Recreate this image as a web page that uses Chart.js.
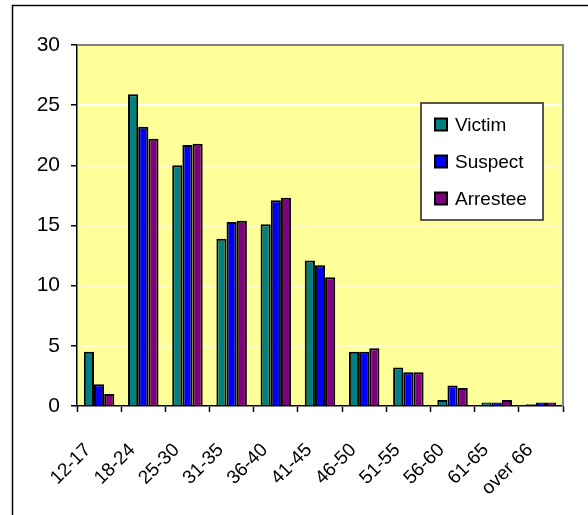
<!DOCTYPE html>
<html>
<head>
<meta charset="utf-8">
<script src="https://cdn.jsdelivr.net/npm/chart.js@4/dist/chart.umd.min.js"></script>
<style>
  html, body { margin: 0; padding: 0; background: #fff; overflow: hidden; }
  #wrap { width: 588px; height: 515px; position: relative; }
</style>
</head>
<body>
<div id="wrap"><canvas id="c"></canvas></div>
<script>
// Age groups (categories)
const ageGroups = ['12-17', '18-24', '25-30', '31-35', '36-40', '41-45', '46-50', '51-55', '56-60', '61-65', 'over 66'];

// Percentages per age group
const victim   = [4.5, 25.9, 20.0, 13.9, 15.1, 12.1, 4.5, 3.2, 0.5, 0.3, 0.15];
const suspect  = [1.8, 23.2, 21.7, 15.3, 17.1, 11.7, 4.5, 2.8, 1.7, 0.3, 0.3];
const arrestee = [1.0, 22.2, 21.8, 15.4, 17.3, 10.7, 4.8, 2.8, 1.5, 0.5, 0.3];

const seriesNames = ['Victim', 'Suspect', 'Arrestee'];
const yTicks = [0, 5, 10, 15, 20, 25, 30];

const FONT = '"Liberation Sans", Arial, sans-serif';

// Page frame, plot background and plot border
const framePlugin = {
  id: 'frame',
  beforeDraw(chart) {
    const ctx = chart.ctx, a = chart.chartArea;
    ctx.save();
    ctx.fillStyle = '#ffffff';
    ctx.fillRect(0, 0, chart.width, chart.height);
    ctx.strokeStyle = '#000000';
    ctx.lineWidth = 1.5;
    ctx.beginPath();
    ctx.moveTo(12.5, chart.height);
    ctx.lineTo(12.5, 5.5);
    ctx.lineTo(chart.width, 5.5);
    ctx.stroke();
    ctx.fillStyle = '#FFFF99';
    ctx.fillRect(a.left, a.top, a.right - a.left, a.bottom - a.top);
    ctx.restore();
  },
  beforeDatasetsDraw(chart) {
    const ctx = chart.ctx, a = chart.chartArea;
    ctx.save();
    ctx.strokeStyle = '#808080';
    ctx.lineWidth = 2;
    ctx.beginPath();
    ctx.moveTo(a.left, a.top);
    ctx.lineTo(a.right, a.top);
    ctx.lineTo(a.right, a.bottom);
    ctx.stroke();
    ctx.restore();
  }
};

// Boxed legend inside the plot area
const boxLegend = {
  id: 'boxLegend',
  afterDraw(chart) {
    const ctx = chart.ctx;
    const bx = 421, by = 103, bw = 122, bh = 117;
    ctx.save();
    ctx.fillStyle = '#ffffff';
    ctx.fillRect(bx, by, bw, bh);
    ctx.strokeStyle = '#222222';
    ctx.lineWidth = 1.5;
    ctx.strokeRect(bx, by, bw, bh);
    ctx.font = '19px ' + FONT;
    ctx.textBaseline = 'middle';
    ctx.textAlign = 'left';
    chart.data.datasets.forEach((ds, i) => {
      const cy = 124.5 + i * 37;
      ctx.fillStyle = ds.backgroundColor;
      ctx.fillRect(435, cy - 6, 12, 12);
      ctx.strokeStyle = '#000000';
      ctx.lineWidth = 2;
      ctx.strokeRect(435, cy - 6, 12, 12);
      ctx.fillStyle = '#000000';
      ctx.fillText(ds.label, 455, cy + 1);
    });
    ctx.restore();
  }
};

const colors = ['#008080', '#0000FF', '#800080'];
const values = [victim, suspect, arrestee];

new Chart(document.getElementById('c'), {
  type: 'bar',
  data: {
    labels: ageGroups,
    datasets: seriesNames.map((name, i) => ({
      label: name,
      data: values[i],
      backgroundColor: colors[i],
      borderColor: '#000000',
      borderWidth: 2,
      categoryPercentage: 0.69,
      barPercentage: 1.0
    }))
  },
  options: {
    responsive: true,
    maintainAspectRatio: false,
    animation: false,
    events: [],
    layout: { padding: { left: 0, top: 45, right: 25, bottom: 0 } },
    plugins: {
      legend: { display: false },
      tooltip: { enabled: false },
      title: { display: false }
    },
    scales: {
      x: {
        offset: true,
        grid: {
          display: true,
          offset: true,
          drawOnChartArea: false,
          drawTicks: true,
          tickLength: 6,
          tickColor: '#000000',
          tickWidth: 1.5
        },
        border: { display: true, color: '#000000', width: 1.5 },
        ticks: {
          autoSkip: false,
          maxRotation: 45,
          minRotation: 45,
          labelOffset: -11,
          padding: 27,
          color: '#000000',
          font: { family: FONT, size: 19 }
        },
        afterFit(scale) { scale.height = 109; }
      },
      y: {
        min: 0,
        max: 30,
        afterBuildTicks(scale) { scale.ticks = yTicks.map(v => ({ value: v })); },
        grid: {
          color: '#ffffff',
          lineWidth: 1.5,
          drawTicks: true,
          tickLength: 6,
          tickColor: '#000000',
          tickWidth: 1.5
        },
        border: { display: true, color: '#000000', width: 1.5 },
        ticks: {
          padding: 11,
          color: '#000000',
          font: { family: FONT, size: 21 }
        },
        afterFit(scale) { scale.width = 77; }
      }
    }
  },
  plugins: [framePlugin, boxLegend]
});
</script>
</body>
</html>
